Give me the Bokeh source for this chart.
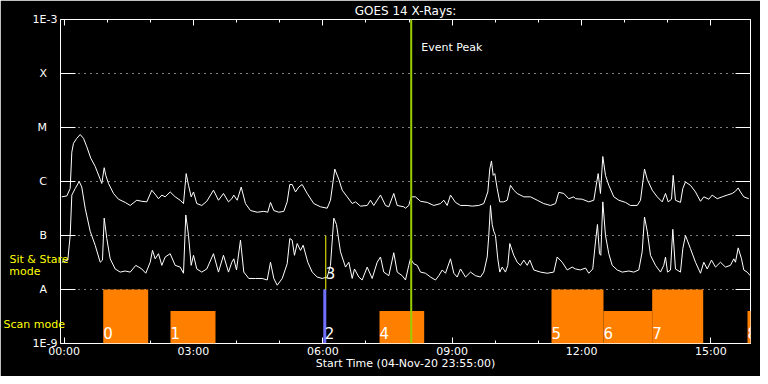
from bokeh.plotting import figure
from bokeh.models import (Range1d, FixedTicker, LinearAxis, LogAxis, Span, Label,
                          LabelSet, BoxAnnotation, ColumnDataSource)
from bokeh.core.properties import value
from bokeh.embed import file_html
from bokeh.resources import INLINE

# ---------------- data ----------------
# time in hours after 00:00 (start time 04-Nov-20 23:55:00), flux in W/m^2
long_t = [-0.053, 0.063, 0.141, 0.179, 0.218, 0.294, 0.373, 0.450, 0.526, 0.619,
          0.721, 0.837, 0.874, 0.930, 0.967, 1.030, 1.146, 1.261, 1.417, 1.533,
          1.686, 1.802, 1.918, 2.034, 2.126, 2.189, 2.266, 2.344, 2.460, 2.576,
          2.692, 2.769, 2.831, 2.885, 2.947, 3.001, 3.077, 3.193, 3.309, 3.464,
          3.580, 3.696, 3.812, 3.889, 3.935, 4.014, 4.107, 4.206, 4.322, 4.478,
          4.631, 4.723, 4.786, 4.863, 4.979, 5.095, 5.173, 5.234, 5.289, 5.366,
          5.442, 5.521, 5.637, 5.790, 5.946, 6.101, 6.177, 6.277, 6.370, 6.449,
          6.565, 6.681, 6.757, 6.873, 7.028, 7.105, 7.181, 7.337, 7.453, 7.529,
          7.645, 7.724, 7.877, 7.917, 7.993, 8.049, 8.148, 8.264, 8.420, 8.573,
          8.728, 8.805, 8.883, 8.960, 9.076, 9.192, 9.347, 9.463, 9.616, 9.732,
          9.825, 9.871, 9.910, 9.950, 9.987, 10.043, 10.103, 10.196, 10.275, 10.351,
          10.428, 10.507, 10.660, 10.815, 10.971, 11.123, 11.279, 11.395, 11.471, 11.587,
          11.703, 11.819, 11.858, 12.014, 12.167, 12.283, 12.339, 12.385, 12.438, 12.492,
          12.554, 12.631, 12.747, 12.863, 13.018, 13.134, 13.289, 13.366, 13.459, 13.522,
          13.637, 13.753, 13.869, 13.946, 14.008, 14.085, 14.124, 14.177, 14.293, 14.347,
          14.409, 14.525, 14.641, 14.757, 14.834, 14.950, 15.028, 15.144, 15.260, 15.376,
          15.492, 15.568, 15.631, 15.684, 15.761, 15.877]
long_f = [5.2e-7, 5.4e-7, 7.4e-7, 3.5e-6, 5.1e-6, 6.3e-6, 7.4e-6, 6.3e-6, 4.4e-6, 2.7e-6,
          1.9e-6, 1.1e-6, 9.2e-7, 1.8e-6, 1.3e-6, 9.2e-7, 6.0e-7, 4.7e-7, 4.1e-7, 3.6e-7,
          4.5e-7, 4.3e-7, 4.2e-7, 6.9e-7, 5.6e-7, 4.8e-7, 5.6e-7, 5.2e-7, 6.4e-7, 5.2e-7,
          4.5e-7, 3.9e-7, 1.4e-6, 8.5e-7, 5.2e-7, 6.4e-7, 3.9e-7, 3.6e-7, 4.3e-7, 6.9e-7,
          4.5e-7, 6.0e-7, 4.2e-7, 4.8e-7, 5.6e-7, 4.5e-7, 7.9e-7, 3.9e-7, 2.9e-7, 2.7e-7,
          2.8e-7, 2.7e-7, 4.1e-7, 2.9e-7, 2.7e-7, 2.8e-7, 4.2e-7, 8.8e-7, 8.8e-7, 6.4e-7,
          7.9e-7, 8.8e-7, 6.0e-7, 3.9e-7, 3.4e-7, 3.2e-7, 4.5e-7, 1.7e-6, 1.1e-6, 6.9e-7,
          5.2e-7, 3.9e-7, 4.2e-7, 3.5e-7, 3.6e-7, 4.5e-7, 3.6e-7, 5.6e-7, 3.6e-7, 3.4e-7,
          6.0e-7, 3.6e-7, 3.4e-7, 3.2e-7, 3.6e-7, 5.2e-7, 5.2e-7, 4.3e-7, 4.1e-7, 3.6e-7,
          3.9e-7, 4.5e-7, 3.6e-7, 5.6e-7, 4.1e-7, 3.6e-7, 3.6e-7, 3.5e-7, 3.6e-7, 3.9e-7,
          6.4e-7, 1.7e-6, 2.4e-6, 1.3e-6, 1.4e-6, 7.4e-7, 4.2e-7, 4.2e-7, 4.5e-7, 8.5e-7,
          6.9e-7, 6.0e-7, 5.2e-7, 5.2e-7, 4.5e-7, 3.9e-7, 3.6e-7, 3.9e-7, 6.3e-7, 6.0e-7,
          4.8e-7, 5.2e-7, 4.8e-7, 4.7e-7, 4.2e-7, 4.5e-7, 8.5e-7, 1.4e-6, 6.0e-7, 2.9e-6,
          1.3e-6, 8.5e-7, 5.2e-7, 4.5e-7, 4.1e-7, 3.6e-7, 3.6e-7, 4.5e-7, 1.7e-6, 1.1e-6,
          6.9e-7, 5.2e-7, 4.2e-7, 6.0e-7, 4.2e-7, 4.7e-7, 1.3e-6, 4.5e-7, 4.1e-7, 7.4e-7,
          9.8e-7, 8.5e-7, 6.4e-7, 4.3e-7, 5.2e-7, 4.7e-7, 5.6e-7, 4.8e-7, 5.2e-7, 5.6e-7,
          6.0e-7, 6.6e-7, 7.6e-7, 6.4e-7, 5.2e-7, 4.8e-7]

short_t = [-0.053, 0.086, 0.141, 0.179, 0.257, 0.350, 0.410, 0.489, 0.605, 0.721,
           0.837, 0.890, 0.930, 0.990, 1.069, 1.185, 1.301, 1.417, 1.533, 1.663,
           1.802, 1.894, 1.997, 2.050, 2.112, 2.189, 2.266, 2.344, 2.460, 2.576,
           2.692, 2.769, 2.822, 2.885, 2.947, 3.001, 3.077, 3.193, 3.309, 3.464,
           3.580, 3.696, 3.812, 3.889, 3.935, 3.998, 4.090, 4.167, 4.283, 4.438,
           4.594, 4.710, 4.786, 4.863, 4.942, 5.058, 5.173, 5.234, 5.289, 5.342,
           5.405, 5.482, 5.544, 5.651, 5.753, 5.869, 5.985, 6.101, 6.177, 6.254,
           6.316, 6.409, 6.525, 6.602, 6.681, 6.734, 6.834, 6.912, 7.028, 7.144,
           7.260, 7.337, 7.413, 7.529, 7.645, 7.724, 7.840, 7.917, 7.993, 8.032,
           8.109, 8.188, 8.264, 8.380, 8.496, 8.612, 8.689, 8.768, 8.844, 8.960,
           9.037, 9.115, 9.192, 9.308, 9.424, 9.540, 9.656, 9.732, 9.811, 9.848,
           9.887, 9.927, 9.964, 10.003, 10.057, 10.103, 10.159, 10.235, 10.289, 10.335,
           10.428, 10.507, 10.583, 10.660, 10.739, 10.799, 10.892, 11.047, 11.202, 11.355,
           11.434, 11.550, 11.666, 11.782, 11.858, 11.974, 12.090, 12.167, 12.259, 12.322,
           12.368, 12.415, 12.445, 12.492, 12.554, 12.631, 12.710, 12.826, 12.942, 13.095,
           13.210, 13.326, 13.405, 13.459, 13.522, 13.598, 13.714, 13.830, 13.906, 13.946,
           13.992, 14.062, 14.115, 14.177, 14.293, 14.347, 14.409, 14.525, 14.641, 14.757,
           14.834, 14.913, 15.012, 15.105, 15.220, 15.336, 15.452, 15.529, 15.568, 15.631,
           15.708, 15.761, 15.840, 15.910]
short_f = [3.2e-8, 3.5e-8, 1.0e-7, 5.6e-7, 7.4e-7, 1.0e-6, 7.9e-7, 3.2e-7, 1.2e-7, 6.6e-8,
           3.2e-8, 3.5e-8, 2.1e-7, 8.8e-8, 3.7e-8, 2.4e-8, 2.1e-8, 2.2e-8, 2.1e-8, 2.8e-8,
           2.4e-8, 2.0e-8, 3.2e-8, 5.3e-8, 3.7e-8, 4.6e-8, 2.8e-8, 4.0e-8, 4.6e-8, 2.8e-8,
           2.6e-8, 2.0e-8, 2.4e-7, 1.0e-7, 2.8e-8, 4.3e-8, 2.4e-8, 2.1e-8, 2.4e-8, 4.6e-8,
           2.1e-8, 4.3e-8, 2.1e-8, 3.2e-8, 3.7e-8, 2.3e-8, 8.2e-8, 2.1e-8, 1.6e-8, 1.6e-8,
           1.6e-8, 1.5e-8, 3.2e-8, 1.6e-8, 1.2e-8, 1.6e-8, 3.0e-8, 8.8e-8, 8.2e-8, 4.3e-8,
           7.1e-8, 5.3e-8, 6.6e-8, 3.2e-8, 2.1e-8, 1.7e-8, 1.6e-8, 1.7e-8, 2.8e-8, 2.1e-7,
           1.6e-7, 5.0e-8, 2.6e-8, 3.2e-8, 1.6e-8, 2.4e-8, 1.7e-8, 1.5e-8, 2.6e-8, 1.6e-8,
           3.2e-8, 4.0e-8, 2.1e-8, 1.8e-8, 4.8e-8, 2.1e-8, 1.8e-8, 1.5e-8, 2.8e-8, 3.7e-8,
           3.0e-8, 2.8e-8, 2.1e-8, 2.0e-8, 1.7e-8, 1.5e-8, 1.8e-8, 2.3e-8, 2.0e-8, 3.7e-8,
           2.0e-8, 1.7e-8, 2.4e-8, 1.7e-8, 2.1e-8, 1.8e-8, 1.7e-8, 2.1e-8, 4.0e-8, 1.0e-7,
           3.6e-7, 1.6e-7, 1.2e-7, 1.0e-7, 3.7e-8, 2.1e-8, 2.6e-8, 2.1e-8, 2.8e-8, 7.1e-8,
           4.3e-8, 3.2e-8, 2.8e-8, 3.5e-8, 2.8e-8, 3.5e-8, 2.3e-8, 2.1e-8, 2.0e-8, 2.1e-8,
           4.0e-8, 3.2e-8, 2.3e-8, 2.6e-8, 2.4e-8, 2.3e-8, 2.5e-8, 2.0e-8, 2.4e-8, 7.6e-8,
           1.6e-7, 4.6e-8, 4.3e-8, 4.2e-7, 1.0e-7, 4.6e-8, 2.8e-8, 2.3e-8, 2.1e-8, 2.2e-8,
           2.1e-8, 2.3e-8, 5.0e-8, 2.2e-7, 1.2e-7, 4.3e-8, 2.8e-8, 2.1e-8, 2.8e-8, 4.0e-8,
           2.1e-8, 2.3e-8, 1.3e-7, 2.4e-8, 2.1e-8, 5.7e-8, 1.0e-7, 5.7e-8, 3.2e-8, 2.0e-8,
           3.2e-8, 2.4e-8, 3.5e-8, 2.6e-8, 3.2e-8, 2.6e-8, 2.8e-8, 3.7e-8, 3.2e-8, 5.9e-8,
           3.7e-8, 2.3e-8, 2.1e-8, 1.8e-8]

# scan-mode observations (orange blocks)
scan_labels = ["0", "1", "4", "5", "6", "7", "8"]
scan_start = [0.907, 2.467, 7.314, 11.302, 12.508, 13.637, 15.847]
scan_end = [1.950, 3.511, 8.350, 12.508, 13.637, 14.820, 16.400]
scan_top = [1e-8, 4e-9, 4e-9, 1e-8, 4e-9, 1e-8, 4e-9]

# short observations drawn as lines
short_scan_label, short_scan_t = "2", 6.045
sit_stare_label, sit_stare_t = "3", 6.068
event_peak_t = 8.049

y_ticks = [1e-9, 1e-8, 1e-7, 1e-6, 1e-5, 1e-4, 1e-3]
y_tick_labels = ["1E-9", "A", "B", "C", "M", "X", "1E-3"]
x_ticks = [0, 3, 6, 9, 12, 15]
x_tick_labels = ["00:00", "03:00", "06:00", "09:00", "12:00", "15:00"]
x_minor = list(range(0, 16))

# mode legend on the left margin (label positions in flux units)
mode_pos = [3.67e-8, 2.18e-8, 2.27e-9]
mode_text = ["Sit & Stare", "mode" + "\u00a0" * 8, "Scan mode" + "\u00a0"]

x_start, x_end = -5 / 60, 15 + 55 / 60
band_bottom, band_mid, band_top = 1e-9, 1e-8, 1e-7

FONT = "DejaVu Sans"

# ---------------- figure ----------------
p = figure(width=760, height=376, output_backend="svg", toolbar_location=None, tools="",
           y_axis_type="log", x_range=Range1d(x_start, x_end), y_range=Range1d(1e-9, 1e-3),
           min_border_left=60, min_border_right=10, min_border_top=19, min_border_bottom=33,
           background_fill_color="black", border_fill_color="black",
           outline_line_color=None)

yticker = FixedTicker(ticks=y_ticks, minor_ticks=[])
xticker = FixedTicker(ticks=x_ticks, minor_ticks=x_minor)
ylab = {t: (l if len(l) > 1 else l + "\u00a0\u00a0\u00a0") for t, l in zip(y_ticks, y_tick_labels)}
xlab = {t: l for t, l in zip(x_ticks, x_tick_labels)}


def style_axis(ax):
    ax.axis_line_color = "white"
    ax.major_tick_line_color = "white"
    ax.minor_tick_line_color = "white"
    ax.major_tick_out = 0
    ax.minor_tick_out = 0
    ax.major_label_text_color = "white"
    ax.major_label_text_font = FONT
    ax.major_label_text_font_size = "11px"
    ax.axis_label_text_color = "white"
    ax.axis_label_text_font = FONT
    ax.axis_label_text_font_size = "11px"
    ax.axis_label_text_font_style = "normal"


left = p.yaxis[0]
left.ticker = yticker
style_axis(left)
left.major_tick_in = 15
left.major_label_overrides = ylab
left.major_label_standoff = 3

bottom = p.xaxis[0]
bottom.ticker = xticker
style_axis(bottom)
bottom.major_tick_in = 6
bottom.minor_tick_in = 3
bottom.major_label_overrides = xlab
bottom.major_label_standoff = 1
bottom.axis_label = "Start Time (04-Nov-20 23:55:00)"
bottom.axis_label_standoff = -4

right = LogAxis(ticker=yticker)
style_axis(right)
right.major_tick_in = 15
right.major_label_standoff = 0
right.major_label_overrides = {t: "" for t in y_ticks}
p.add_layout(right, "right")

top = LinearAxis(ticker=xticker)
style_axis(top)
top.major_tick_in = 6
top.minor_tick_in = 3
top.major_label_standoff = 0
top.major_label_text_font_size = "2px"
top.major_label_overrides = {t: "" for t in x_ticks}
top.axis_label = "GOES 14 X-Rays:"
top.axis_label_text_font_size = "12px"
top.axis_label_standoff = 2
p.add_layout(top, "above")

# yellow mode legend as an extra, line-less left axis
mode_axis = LogAxis(ticker=FixedTicker(ticks=mode_pos, minor_ticks=[]))
mode_axis.axis_line_color = None
mode_axis.major_tick_line_color = None
mode_axis.minor_tick_line_color = None
mode_axis.major_tick_in = 0
mode_axis.major_tick_out = 0
mode_axis.major_label_overrides = {t: s for t, s in zip(mode_pos, mode_text)}
mode_axis.major_label_text_color = "#ffff00"
mode_axis.major_label_text_font = FONT
mode_axis.major_label_text_font_size = "11px"
mode_axis.major_label_standoff = -39
p.add_layout(mode_axis, "left")

p.xgrid.visible = False
p.ygrid.ticker = yticker
p.ygrid.grid_line_color = "white"
p.ygrid.grid_line_dash = "1 5"
p.ygrid.grid_line_width = 1

# light curves
p.line(long_t, long_f, line_color="white", line_width=1)
p.line(short_t, short_f, line_color="white", line_width=1)

# observation blocks
for s, e, t in zip(scan_start, scan_end, scan_top):
    p.add_layout(BoxAnnotation(left=s, right=e, bottom=band_bottom, top=t,
                               fill_color="#ff8000", fill_alpha=1.0, line_color=None))

p.segment(x0=[short_scan_t], y0=[band_bottom], x1=[short_scan_t], y1=[band_mid],
          line_color="#7070ff", line_width=3)
p.segment(x0=[sit_stare_t], y0=[band_mid], x1=[sit_stare_t], y1=[band_top],
          line_color="#ffff00", line_width=1)

p.add_layout(Span(location=event_peak_t, dimension="height", line_color="#9acd00", line_width=2))

# observation numbers
num_src = ColumnDataSource(dict(t=scan_start + [short_scan_t],
                                y=[band_bottom] * (len(scan_start) + 1),
                                label=scan_labels + [short_scan_label]))
p.add_layout(LabelSet(x="t", y="y", text="label", source=num_src, y_offset=5,
                      text_color="white", text_font_size="15px", text_font=value(FONT),
                      text_baseline="alphabetic", text_align="left"))
ss_src = ColumnDataSource(dict(t=[sit_stare_t], y=[band_mid], label=[sit_stare_label]))
p.add_layout(LabelSet(x="t", y="y", text="label", source=ss_src, y_offset=11,
                      text_color="white", text_font_size="15px", text_font=value(FONT),
                      text_baseline="alphabetic", text_align="left"))

p.add_layout(Label(x=event_peak_t, y=1e-3, x_offset=10, y_offset=-28, text="Event Peak",
                   text_align="left", text_baseline="alphabetic", text_color="white",
                   text_font=FONT, text_font_size="11px"))

open("out.html", "w").write(file_html(p, INLINE, title="GOES 14 X-Rays"))
